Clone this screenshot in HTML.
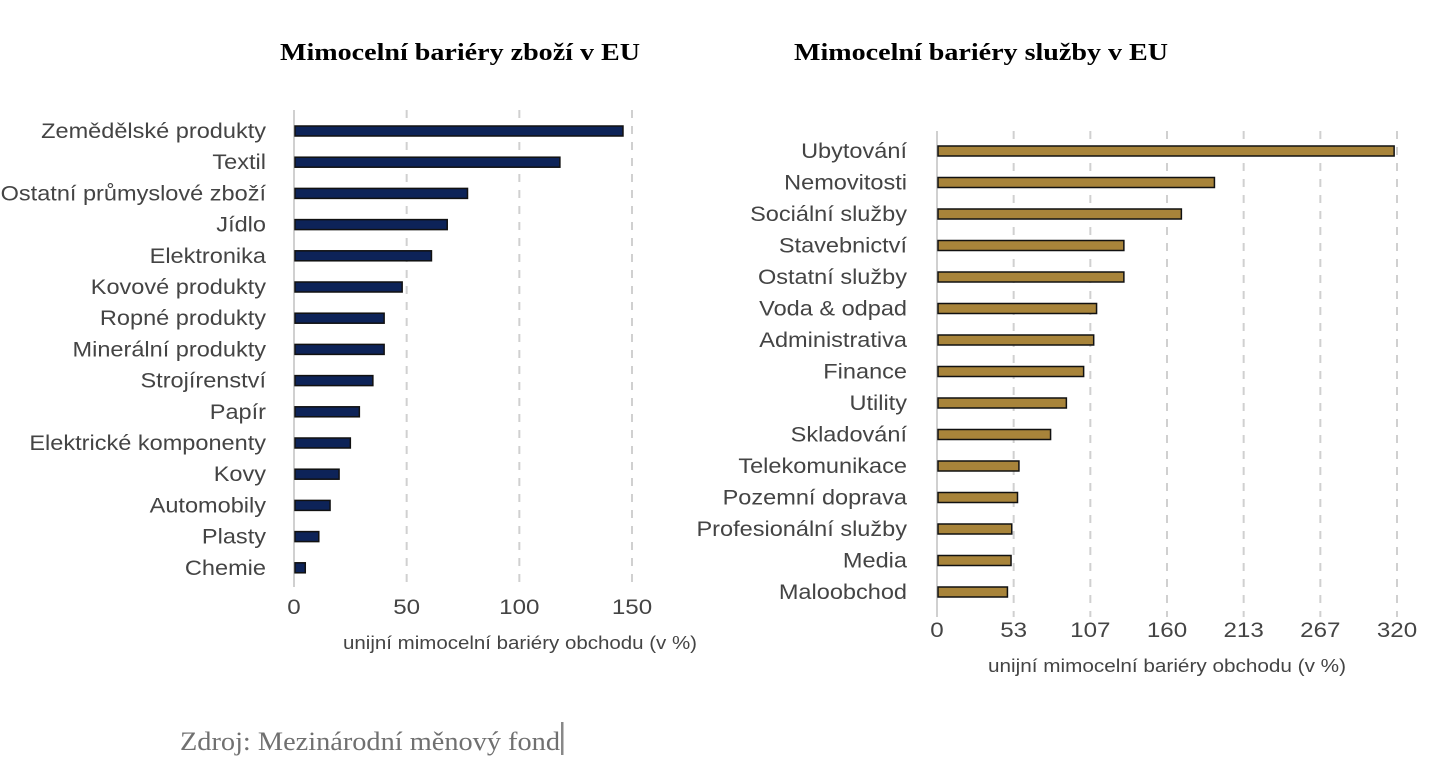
<!DOCTYPE html>
<html><head><meta charset="utf-8"><style>
html,body{margin:0;padding:0;background:#fff;}
svg text{font-family:"Liberation Sans",sans-serif;}
</style></head><body>
<svg id="chart" width="1456" height="769" viewBox="0 0 1456 769" xmlns="http://www.w3.org/2000/svg">
<text x="280" y="60" textLength="360" lengthAdjust="spacingAndGlyphs" style="font-family:'Liberation Serif',serif;font-weight:bold;font-size:24px" fill="#000">Mimocelní bariéry zboží v EU</text>
<text x="794" y="60" textLength="374" lengthAdjust="spacingAndGlyphs" style="font-family:'Liberation Serif',serif;font-weight:bold;font-size:24px" fill="#000">Mimocelní bariéry služby v EU</text>
<g id="left"></g>
<g id="right"></g>
<text x="180" y="750" textLength="380" lengthAdjust="spacingAndGlyphs" style="font-family:'Liberation Serif',serif;font-size:26px" fill="#707070">Zdroj: Mezinárodní měnový fond</text>
<rect x="561" y="722" width="2.5" height="33" fill="#888"/>
</svg>
<script>
const goodsCategories = ["Zemědělské produkty","Textil ","Ostatní průmyslové zboží","Jídlo","Elektronika","Kovové produkty","Ropné produkty","Minerální produkty","Strojírenství","Papír","Elektrické komponenty","Kovy","Automobily","Plasty","Chemie"];
const goodsValues = [146,118,77,68,61,48,40,40,35,29,25,20,16,11,5];
const goodsTicks = [0,50,100,150];
const goodsTickLabels = ["0","50","100","150"];
const servicesCategories = ["Ubytování","Nemovitosti","Sociální služby","Stavebnictví","Ostatní služby","Voda & odpad","Administrativa","Finance","Utility","Skladování","Telekomunikace","Pozemní doprava","Profesionální služby","Media","Maloobchod"];
const servicesValues = [318,193,170,130,130,111,109,102,90,79,57,56,52,51.5,49];
const servicesTicks = [0,53.33,106.67,160,213.33,266.67,320];
const servicesTickLabels = ["0","53","107","160","213","267","320"];

const NS="http://www.w3.org/2000/svg";
function mk(parent,tag,attrs){const e=document.createElementNS(NS,tag);for(const k in attrs)e.setAttribute(k,attrs[k]);parent.appendChild(e);return e;}
function stretch(t,f){const L=t.getComputedTextLength();if(L>0){t.setAttribute('textLength',L*f);t.setAttribute('lengthAdjust','spacingAndGlyphs');}}

function draw(g,cfg,cats,vals,ticks,tickLabels,prefix){
  const x=v=>cfg.x0+(v-0)/cfg.max*(cfg.x1-cfg.x0);
  const y=i=>cfg.y0+i*cfg.step;
  ticks.forEach((t,i)=>{
    const l=mk(g,'line',{x1:x(t),x2:x(t),y1:cfg.gTop,y2:cfg.gBot,stroke:'#d0d0d0','stroke-width':2,'stroke-dasharray':i===0?'none':'8,8'});
    
    
    const tx=mk(g,'text',{x:x(t),y:cfg.tickY,'text-anchor':'middle','font-size':21,fill:'#444'});
    tx.textContent=tickLabels[i];
    
    
    stretch(tx,1.15);
  });
  cats.forEach((c,i)=>{
    const r=mk(g,'rect',{x:x(0)+1,y:y(i)-5,width:Math.max(0,x(vals[i])-x(0)-1),height:10,fill:cfg.color,stroke:'#111','stroke-width':1.5});
    
    
    const t=mk(g,'text',{x:cfg.labelX,y:y(i)+7,'text-anchor':'end','font-size':21,fill:'#444'});
    t.setAttribute('xml:space','preserve');
    t.textContent=c;
    
    
    stretch(t,1.12);
  });
  const at=mk(g,'text',{x:cfg.titleX,y:cfg.titleY,'text-anchor':'middle','font-size':18,fill:'#444',textLength:cfg.titleW,lengthAdjust:'spacingAndGlyphs'});
  at.textContent='unijní mimocelní bariéry obchodu (v %)';
  
  
}
draw(document.getElementById('left'),{x0:294,x1:632,max:150,y0:131,step:31.2,gTop:110,gBot:587,tickY:614,labelX:266,titleX:520,titleY:649,titleW:354,color:'#0d2358'},goodsCategories,goodsValues,goodsTicks,goodsTickLabels,'goods');
draw(document.getElementById('right'),{x0:937,x1:1397,max:320,y0:151,step:31.5,gTop:131,gBot:617,tickY:637,labelX:907,titleX:1167,titleY:672,titleW:358,color:'#a8843a'},servicesCategories,servicesValues,servicesTicks,servicesTickLabels,'services');
</script>
</body></html>
